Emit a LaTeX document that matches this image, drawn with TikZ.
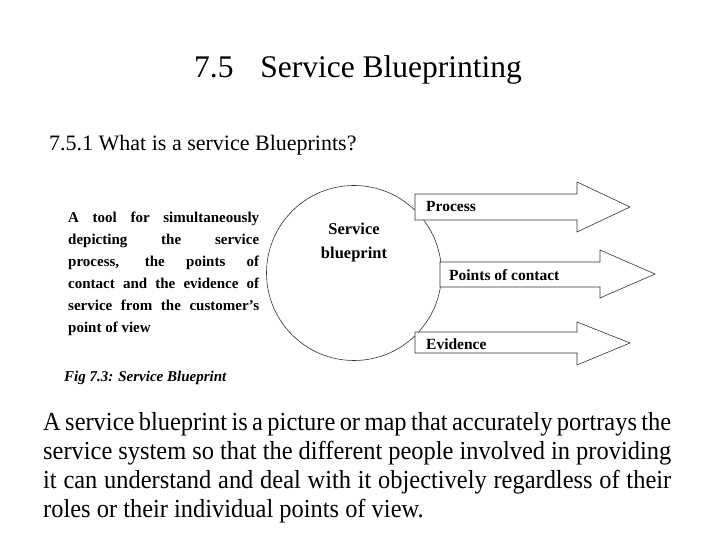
\documentclass[tikz,border=0pt]{standalone}
\usepackage{fontspec}
\setmainfont{Liberation Serif}
\newfontfamily\narrowfont[FakeStretch=0.94]{Liberation Serif}
\newcommand{\jl}[2]{\makebox[#1][s]{#2}}
\begin{document}
\begin{tikzpicture}[x=1pt,y=-1pt,
  arr/.style={draw=black!80,line width=0.6pt,fill=white},
  lbl/.style={font=\bfseries\fontsize{15.5}{16}\selectfont,anchor=west,inner sep=0}]
\useasboundingbox (0,0) rectangle (720,540);
\node[font=\fontsize{31.5}{32}\selectfont] (title) at (358,70) {7.5\hspace{0.6em} Service Blueprinting};
\node[font=\fontsize{22}{22}\selectfont,anchor=west,inner sep=0] (sub) at (49,145) {7.5.1 What is a service Blueprints?};
\node[font=\bfseries\fontsize{15}{22}\selectfont,align=left,anchor=north west,inner sep=0] (desc) at (68,212)
 {\jl{191pt}{A tool for simultaneously}\\\jl{191pt}{depicting the service}\\\jl{191pt}{process, the points of}\\\jl{191pt}{contact and the evidence of}\\\jl{191pt}{service from the customer's}\\point of view};
\node[font=\bfseries\itshape\fontsize{15}{16}\selectfont,anchor=west,inner sep=0] (cap) at (64,378) {Fig 7.3: Service Blueprint};
\node[draw=black!80,line width=0.6pt,circle,minimum size=175pt] (c) at (354,273) {};
\node[font=\bfseries\fontsize{16.5}{24}\selectfont,align=center] (ct) at (354,243) {Service\\blueprint};
\draw[arr] (415,194) -- (577,194) -- (577,182) -- (630,207) -- (577,232) -- (577,220) -- (415,220) -- cycle;
\draw[arr] (440,262) -- (600,262) -- (600,250) -- (655,274) -- (600,298) -- (600,287) -- (440,287) -- cycle;
\draw[arr] (415,332) -- (577,332) -- (577,322) -- (630,343) -- (577,365) -- (577,353) -- (415,353) -- cycle;
\node[lbl] (p1) at (426,207) {Process};
\node[lbl] (p2) at (449,275) {Points of contact};
\node[lbl] (p3) at (426,344) {Evidence};
\node[font=\narrowfont\fontsize{26}{29}\selectfont,align=left,anchor=north west,inner sep=0] (body) at (43,412)
 {\jl{628pt}{A service blueprint is a picture or map that accurately portrays the}\\\jl{628pt}{service system so that the different people involved in providing}\\\jl{628pt}{it can understand and deal with it objectively regardless of their}\\roles or their individual points of view.};
\end{tikzpicture}
\end{document}
